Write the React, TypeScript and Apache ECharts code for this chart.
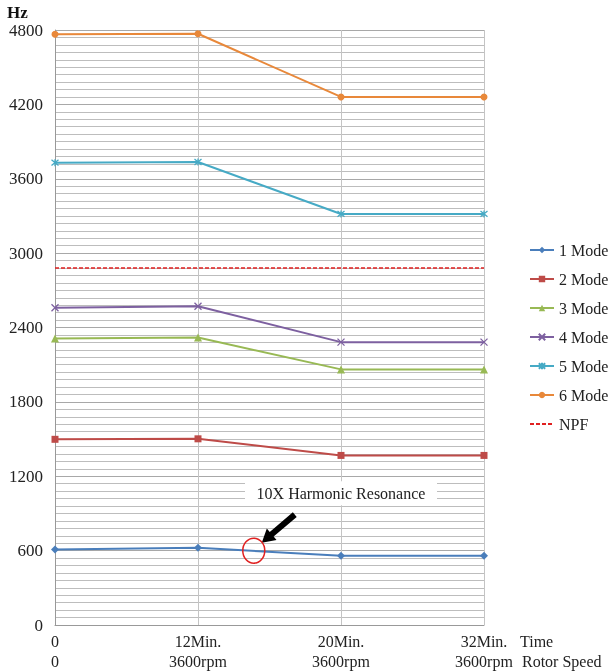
import React, { useEffect, useRef } from "react";
import * as echarts from "echarts";

const xPositions = [0, 1, 2, 3];
const timeLabels = ["0", "12Min.", "20Min.", "32Min."];
const speedLabels = ["0", "3600rpm", "3600rpm", "3600rpm"];
const yTicks = [0, 600, 1200, 1800, 2400, 3000, 3600, 4200, 4800];

const mode1 = [610, 623, 558, 558];
const mode2 = [1498, 1502, 1368, 1368];
const mode3 = [2311, 2319, 2062, 2062];
const mode4 = [2560, 2572, 2282, 2282];
const mode5 = [3730, 3735, 3316, 3316];
const mode6 = [4765, 4770, 4260, 4260];
const npf = [2880, 2880, 2880, 2880];

const resonancePoint = [1.39, 600];
const noteAnchor = [2, 1063];
const noteText = "10X Harmonic Resonance";

const FONT = "'Liberation Serif', 'Times New Roman', serif";

const X_SYM = "path://M0,0L10,10M10,0L0,10";
const AST_SYM = "path://M0,0L10,10M10,0L0,10M5,-1L5,11";

function pairs(vals: number[]) {
  return vals.map((v, i) => [xPositions[i], v]);
}

export default function App() {
  const ref = useRef<HTMLDivElement>(null);
  useEffect(() => {
    if (!ref.current) return;
    const chart = echarts.init(ref.current, undefined, { renderer: "svg" });
    const mk = (name: string, data: number[], color: string, symbol: string, size: number, stroke = false) => ({
      name,
      type: "line",
      data: pairs(data),
      symbol,
      symbolSize: size,
      lineStyle: { color, width: 2 },
      itemStyle: stroke ? { color, borderColor: color, borderWidth: 1.3 } : { color },
      emphasis: { disabled: true },
    });
    chart.setOption({
      animation: false,
      textStyle: { fontFamily: FONT },
      grid: { left: 55, right: 125, top: 30, bottom: 45 },
      legend: {
        orient: "vertical",
        left: 524,
        top: 237,
        itemGap: 13,
        itemWidth: 24,
        itemHeight: 8,
        textStyle: { fontFamily: FONT, fontSize: 16, color: "#222" },
        data: [
          "1 Mode",
          "2 Mode",
          "3 Mode",
          "4 Mode",
          "5 Mode",
          "6 Mode",
          { name: "NPF", itemStyle: { opacity: 0 } },
        ],
      },
      xAxis: {
        type: "value",
        min: 0,
        max: 3,
        interval: 1,
        axisLine: { show: true, lineStyle: { color: "#999" } },
        axisTick: { show: false },
        splitLine: { show: true, lineStyle: { color: "#c4c4c4", width: 1 } },
        axisLabel: {
          margin: 6,
          fontFamily: FONT,
          fontSize: 16,
          color: "#222",
          lineHeight: 20,
          formatter: (v: number) => {
            const i = xPositions.indexOf(v);
            return i >= 0 ? timeLabels[i] + "\n" + speedLabels[i] : "";
          },
        },
      },
      yAxis: {
        type: "value",
        min: 0,
        max: 4800,
        interval: 600,
        axisLine: { show: true, lineStyle: { color: "#999" } },
        axisTick: { show: false },
        axisLabel: {
          margin: 12,
          fontFamily: FONT,
          fontSize: 17,
          color: "#222",
          formatter: (v: number) => (yTicks.includes(v) ? String(v) : ""),
        },
        splitLine: { show: true, lineStyle: { color: "#a8a8a8", width: 1 } },
        minorTick: { show: false, splitNumber: 10 },
        minorSplitLine: { show: true, lineStyle: { color: "#bdbdbd", width: 1 } },
      },
      series: [
        mk("1 Mode", mode1, "#4a7ebb", "diamond", 8),
        mk("2 Mode", mode2, "#be4b48", "rect", 7),
        mk("3 Mode", mode3, "#98b954", "triangle", 8),
        mk("4 Mode", mode4, "#7d60a0", X_SYM, 7, true),
        mk("5 Mode", mode5, "#46aac5", AST_SYM, 7, true),
        mk("6 Mode", mode6, "#e8883a", "circle", 7),
        {
          name: "NPF",
          type: "line",
          data: pairs(npf),
          symbol: "none",
          lineStyle: { color: "#e02020", width: 1.6, type: [4, 2] },
          itemStyle: { color: "#e02020" },
          emphasis: { disabled: true },
        },
      ],
    });

    const c = chart.convertToPixel({ gridIndex: 0 }, resonancePoint) as number[];
    const n = chart.convertToPixel({ gridIndex: 0 }, noteAnchor) as number[];
    const tip = [c[0] + 8, c[1] - 8];
    const tail = [c[0] + 41, c[1] - 36];
    const dx = tip[0] - tail[0];
    const dy = tip[1] - tail[1];
    const len = Math.sqrt(dx * dx + dy * dy);
    const u = [dx / len, dy / len];
    const p = [-u[1], u[0]];
    const headLen = 13;
    const shaftHalf = 3;
    const headHalf = 7.5;
    const base = [tip[0] - u[0] * headLen, tip[1] - u[1] * headLen];
    const pt = (o: number[], k: number) => [o[0] + p[0] * k, o[1] + p[1] * k];
    const arrow = [
      pt(tail, shaftHalf),
      pt(base, shaftHalf),
      pt(base, headHalf),
      tip,
      pt(base, -headHalf),
      pt(base, -shaftHalf),
      pt(tail, -shaftHalf),
    ];

    chart.setOption({
      graphic: [
        {
          type: "text",
          left: 7,
          top: 4,
          style: { text: "Hz", fontFamily: FONT, fontSize: 17, fontWeight: "bold", fill: "#111" },
        },
        {
          type: "text",
          x: 520,
          y: 641,
          style: { text: "Time", fontFamily: FONT, fontSize: 16, fill: "#222", verticalAlign: "middle" },
        },
        {
          type: "text",
          x: 522,
          y: 661,
          style: { text: "Rotor Speed", fontFamily: FONT, fontSize: 16, fill: "#222", verticalAlign: "middle" },
        },
        {
          type: "rect",
          shape: { x: n[0] - 96, y: n[1] - 12, width: 192, height: 24 },
          style: { fill: "#fff" },
          z: 10,
        },
        {
          type: "text",
          x: n[0],
          y: n[1],
          z: 11,
          style: {
            text: noteText,
            fontFamily: FONT,
            fontSize: 16,
            fill: "#222",
            align: "center",
            verticalAlign: "middle",
          },
        },
        {
          type: "polygon",
          shape: { points: arrow },
          style: { fill: "#000" },
          z: 11,
        },
        {
          type: "ellipse",
          shape: { cx: c[0], cy: c[1], rx: 11, ry: 12.5 },
          style: { fill: "none", stroke: "#e02020", lineWidth: 1.5 },
          z: 11,
        },
      ],
    });
    return () => chart.dispose();
  }, []);
  return <div ref={ref} style={{ position: "fixed", left: 0, top: 0, width: 609, height: 671 }} />;
}
